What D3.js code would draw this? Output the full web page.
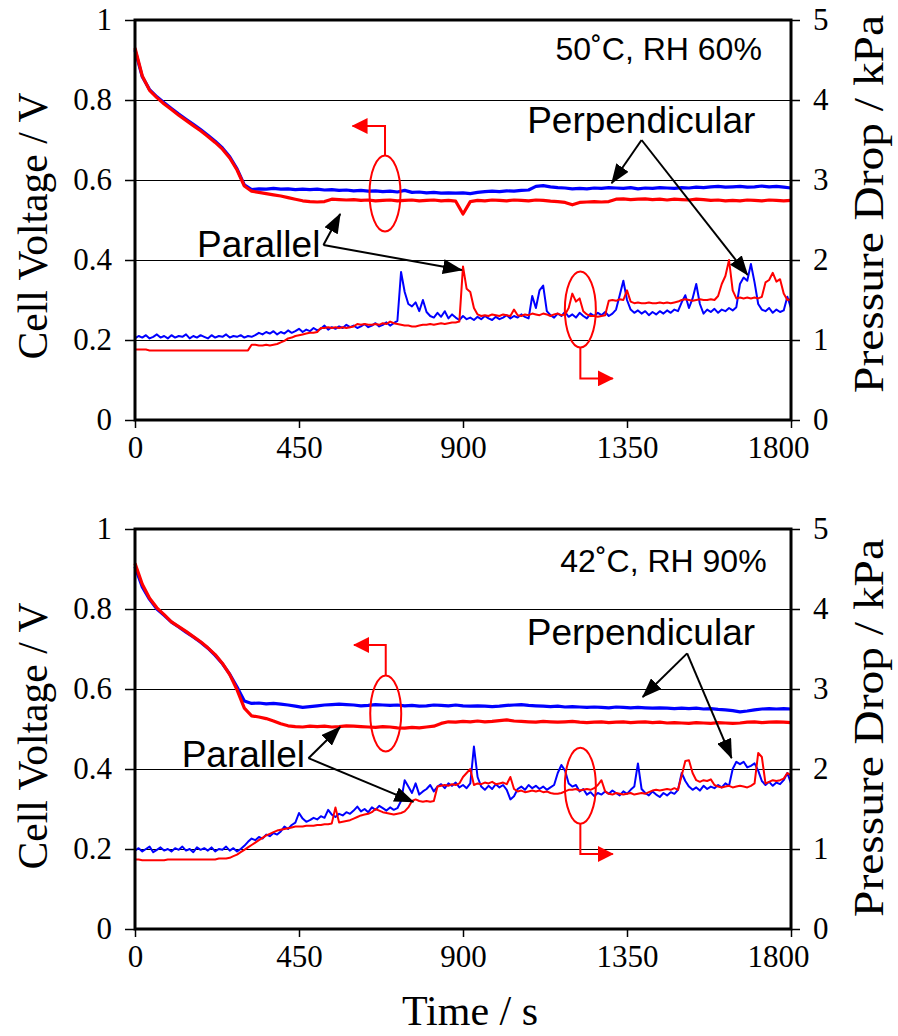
<!DOCTYPE html>
<html>
<head>
<meta charset="utf-8">
<script src="https://cdn.jsdelivr.net/npm/d3@7"></script>
<style>
  body { margin: 0; background: #fff; }
  svg { display: block; }
</style>
</head>
<body>
<svg id="chart" width="898" height="1036"></svg>
<script>
// ----------------------------------------------------
// data
// ----------------------------------------------------
const vStep = 20;   // s between cell voltage samples
const pStep = 10;   // s between pressure drop samples

const timeTicks = [0, 450, 900, 1350, 1800];
const voltTicks = [0, 0.2, 0.4, 0.6, 0.8, 1];
const pressTicks = [0, 1, 2, 3, 4, 5];
const conditions = ['50˚C, RH 60%', '42˚C, RH 90%'];

// 50 C, RH 60 %  -- cell voltage / V, one row = 200 s
const v50Perp = [
  0.925,0.858,0.826,0.808,0.793,0.779,0.765,0.752,0.739,0.726,
  0.712,0.697,0.680,0.658,0.628,0.588,0.576,0.578,0.577,0.579,
  0.577,0.578,0.576,0.577,0.576,0.577,0.575,0.576,0.574,0.575,
  0.573,0.574,0.572,0.573,0.571,0.572,0.570,0.574,0.569,0.570,
  0.568,0.569,0.567,0.568,0.567,0.568,0.566,0.569,0.571,0.572,
  0.571,0.573,0.572,0.574,0.575,0.584,0.586,0.583,0.581,0.580,
  0.578,0.579,0.578,0.580,0.579,0.581,0.580,0.579,0.581,0.578,
  0.580,0.579,0.581,0.580,0.579,0.581,0.580,0.582,0.581,0.583,
  0.584,0.582,0.583,0.584,0.582,0.583,0.585,0.583,0.584,0.582,
  0.580];
const v50Par = [
  0.930,0.860,0.824,0.806,0.790,0.776,0.762,0.749,0.736,0.723,
  0.709,0.694,0.677,0.655,0.625,0.585,0.572,0.569,0.566,0.563,
  0.560,0.556,0.552,0.548,0.546,0.545,0.546,0.552,0.551,0.550,
  0.551,0.549,0.550,0.548,0.549,0.550,0.548,0.549,0.550,0.548,
  0.549,0.550,0.548,0.549,0.547,0.515,0.546,0.549,0.548,0.550,
  0.549,0.548,0.550,0.549,0.548,0.550,0.549,0.547,0.546,0.544,
  0.538,0.544,0.545,0.546,0.545,0.546,0.552,0.553,0.551,0.552,
  0.553,0.551,0.552,0.550,0.552,0.551,0.550,0.552,0.551,0.549,
  0.550,0.548,0.549,0.548,0.550,0.549,0.548,0.550,0.549,0.548,
  0.549];
// 50 C, RH 60 %  -- pressure drop / kPa, one row = 100 s
const p50Perp = [
  1.02,1.05,1.03,1.06,1.02,1.04,1.07,1.03,1.05,1.02,
  1.06,1.03,1.05,1.04,1.07,1.02,1.05,1.03,1.06,1.04,
  1.02,1.06,1.03,1.05,1.04,1.07,1.03,1.05,1.04,1.06,
  1.03,1.05,1.04,1.06,1.09,1.07,1.10,1.08,1.11,1.07,
  1.10,1.08,1.12,1.09,1.11,1.14,1.10,1.13,1.11,1.15,
  1.12,1.14,1.18,1.13,1.16,1.14,1.17,1.15,1.19,1.16,
  1.18,1.15,1.17,1.20,1.16,1.18,1.21,1.17,1.19,1.22,
  1.18,1.21,1.24,1.85,1.60,1.45,1.42,1.47,1.36,1.50,
  1.35,1.30,1.28,1.34,1.29,1.36,1.27,1.32,1.28,1.25,
  1.30,1.26,1.28,1.25,1.29,1.26,1.30,1.27,1.25,1.29,
  1.26,1.28,1.31,1.27,1.30,1.28,1.32,1.29,1.27,1.55,
  1.40,1.62,1.68,1.36,1.31,1.28,1.33,1.30,1.35,1.29,
  1.32,1.28,1.34,1.30,1.27,1.33,1.30,1.34,1.31,1.35,
  1.30,1.33,1.38,1.56,1.74,1.50,1.38,1.34,1.37,1.33,
  1.36,1.31,1.35,1.32,1.36,1.33,1.37,1.34,1.38,1.36,
  1.47,1.56,1.40,1.52,1.70,1.45,1.33,1.38,1.35,1.39,
  1.34,1.38,1.36,1.40,1.37,1.41,1.70,1.78,1.74,1.95,
  1.72,1.45,1.38,1.36,1.40,1.34,1.38,1.35,1.37,1.54,
  1.40];
const p50Par = [
  0.88,0.88,0.88,0.88,0.87,0.87,0.87,0.87,0.87,0.87,
  0.87,0.87,0.87,0.87,0.87,0.87,0.87,0.87,0.87,0.87,
  0.87,0.87,0.87,0.87,0.87,0.87,0.87,0.87,0.87,0.87,
  0.87,0.87,0.94,0.94,0.93,0.93,0.94,0.93,0.94,0.95,
  0.97,0.99,1.02,1.03,1.05,1.06,1.07,1.08,1.09,1.09,
  1.10,1.15,1.15,1.16,1.15,1.16,1.15,1.16,1.15,1.16,
  1.17,1.20,1.19,1.20,1.19,1.19,1.20,1.19,1.21,1.20,
  1.23,1.21,1.20,1.19,1.18,1.18,1.17,1.17,1.18,1.19,
  1.19,1.20,1.19,1.20,1.21,1.20,1.21,1.22,1.22,1.23,
  1.92,1.64,1.60,1.40,1.32,1.30,1.31,1.30,1.32,1.31,
  1.30,1.32,1.31,1.30,1.38,1.31,1.30,1.32,1.31,1.33,
  1.32,1.31,1.33,1.32,1.30,1.32,1.33,1.31,1.32,1.40,
  1.58,1.48,1.52,1.36,1.32,1.30,1.30,1.29,1.30,1.31,
  1.49,1.50,1.49,1.51,1.50,1.62,1.48,1.46,1.47,1.46,
  1.46,1.47,1.46,1.46,1.47,1.46,1.47,1.46,1.47,1.48,
  1.50,1.51,1.50,1.49,1.50,1.51,1.50,1.50,1.51,1.50,
  1.55,1.70,1.80,2.00,1.62,1.52,1.53,1.52,1.53,1.52,
  1.53,1.52,1.54,1.72,1.75,1.84,1.73,1.76,1.58,1.50,
  1.51];

// 42 C, RH 90 %  -- cell voltage / V
const v42Perp = [
  0.906,0.855,0.824,0.800,0.784,0.767,0.755,0.742,0.730,0.717,
  0.702,0.684,0.663,0.637,0.605,0.570,0.564,0.565,0.563,0.564,
  0.562,0.560,0.557,0.554,0.556,0.558,0.560,0.561,0.562,0.561,
  0.560,0.558,0.559,0.561,0.560,0.559,0.560,0.558,0.559,0.557,
  0.558,0.560,0.559,0.558,0.560,0.558,0.557,0.558,0.557,0.556,
  0.557,0.559,0.560,0.561,0.559,0.558,0.557,0.556,0.557,0.555,
  0.556,0.555,0.554,0.555,0.554,0.553,0.555,0.554,0.553,0.554,
  0.553,0.552,0.553,0.552,0.551,0.552,0.551,0.552,0.550,0.551,
  0.549,0.548,0.546,0.543,0.545,0.548,0.550,0.551,0.550,0.551,
  0.550];
const v42Par = [
  0.914,0.862,0.827,0.803,0.786,0.768,0.756,0.744,0.731,0.718,
  0.703,0.686,0.664,0.636,0.598,0.552,0.533,0.530,0.526,0.520,
  0.513,0.508,0.506,0.505,0.507,0.506,0.507,0.505,0.506,0.508,
  0.507,0.506,0.505,0.504,0.506,0.505,0.503,0.502,0.504,0.503,
  0.505,0.507,0.514,0.518,0.517,0.519,0.518,0.520,0.518,0.519,
  0.521,0.523,0.520,0.519,0.518,0.517,0.519,0.518,0.517,0.518,
  0.519,0.517,0.516,0.517,0.518,0.516,0.517,0.518,0.516,0.517,
  0.518,0.516,0.517,0.515,0.516,0.515,0.514,0.516,0.515,0.514,
  0.516,0.515,0.514,0.515,0.517,0.518,0.516,0.517,0.518,0.517,
  0.516];
// 42 C, RH 90 %  -- pressure drop / kPa
const p42Perp = [
  0.98,1.01,0.97,1.00,1.03,0.96,0.99,1.02,0.98,1.00,
  0.97,1.01,0.99,1.03,0.98,1.00,0.96,1.02,0.99,1.01,
  0.98,1.02,0.97,1.00,0.99,1.03,0.98,1.01,0.97,1.00,
  1.04,1.09,1.13,1.11,1.15,1.13,1.18,1.16,1.20,1.18,
  1.22,1.28,1.25,1.30,1.33,1.45,1.38,1.34,1.36,1.39,
  1.37,1.41,1.39,1.49,1.43,1.40,1.44,1.42,1.46,1.44,
  1.48,1.53,1.47,1.50,1.46,1.52,1.49,1.54,1.51,1.48,
  1.52,1.49,1.51,1.60,1.86,1.78,1.70,1.82,1.68,1.72,
  1.75,1.80,1.72,1.78,1.81,1.76,1.82,1.79,1.83,1.77,
  1.80,1.76,1.82,2.28,1.90,1.78,1.74,1.79,1.75,1.81,
  1.77,1.80,1.74,1.62,1.66,1.75,1.78,1.74,1.80,1.76,
  1.79,1.75,1.78,1.74,1.77,1.80,1.95,2.05,1.98,1.82,
  1.78,1.80,1.72,1.75,1.68,1.71,1.66,1.70,1.68,1.72,
  1.69,1.73,1.70,1.67,1.72,1.69,1.74,1.78,2.07,1.75,
  1.70,1.67,1.72,1.68,1.65,1.70,1.67,1.71,1.69,1.74,
  1.95,1.85,1.78,1.74,1.77,1.73,1.79,1.75,1.78,1.76,
  1.80,1.77,1.82,1.79,2.00,2.09,2.06,2.09,2.02,2.04,
  2.07,1.98,1.85,1.80,1.84,1.79,1.83,1.81,1.86,1.95,
  1.82];
const p42Par = [
  0.87,0.87,0.86,0.86,0.86,0.86,0.86,0.86,0.86,0.87,
  0.87,0.87,0.87,0.87,0.87,0.87,0.87,0.87,0.87,0.87,
  0.87,0.87,0.87,0.88,0.88,0.88,0.89,0.91,0.93,0.96,
  0.99,1.02,1.05,1.08,1.11,1.14,1.17,1.19,1.21,1.23,
  1.24,1.25,1.26,1.27,1.28,1.28,1.28,1.29,1.29,1.29,
  1.30,1.30,1.31,1.31,1.32,1.52,1.33,1.34,1.35,1.36,
  1.38,1.40,1.42,1.43,1.44,1.46,1.50,1.48,1.46,1.45,
  1.44,1.43,1.44,1.45,1.47,1.52,1.60,1.62,1.60,1.59,
  1.60,1.59,1.60,1.78,1.79,1.80,1.79,1.81,1.80,1.82,
  1.90,1.95,2.00,1.80,1.82,1.81,1.83,1.82,1.84,1.81,
  1.82,1.83,1.81,1.90,1.75,1.72,1.73,1.71,1.72,1.73,
  1.72,1.73,1.71,1.72,1.70,1.69,1.69,1.70,1.72,1.74,
  1.74,1.75,1.73,1.74,1.75,1.74,1.76,1.80,1.86,1.72,
  1.69,1.68,1.70,1.69,1.68,1.69,1.70,1.68,1.69,1.70,
  1.69,1.71,1.73,1.74,1.73,1.74,1.75,1.74,1.76,1.74,
  1.92,2.10,2.11,1.95,1.86,1.84,1.86,1.85,1.87,1.80,
  1.78,1.77,1.78,1.79,1.77,1.78,1.79,1.78,1.77,1.79,
  1.82,2.20,2.15,1.82,1.84,1.86,1.85,1.86,1.88,1.95,
  1.92];

// annotation anchors in data units [time s, cell voltage V]
const notes50 = {
  cond: [1720, 0.9],
  perpLabel: [1076, 0.7175], perpVertex: [1390, 0.70], perpTips: [[1308, 0.592], [1681, 0.3625]],
  parLabel: [170, 0.408], parVertex: [517, 0.4375], parTips: [[563, 0.515], [897, 0.375]],
  vRing: [686, 0.566], vBend: 0.735, vTip: 597,
  pRing: [1222, 0.276], pBend: 0.104, pTip: 1311
};
const notes42 = {
  cond: [1733, 0.893],
  perpLabel: [1075, 0.71], perpVertex: [1515, 0.689], perpTips: [[1393, 0.58], [1637, 0.427]],
  parLabel: [128, 0.406], parVertex: [476, 0.427], parTips: [[563, 0.505], [764, 0.318]],
  vRing: [688, 0.539], vBend: 0.71, vTip: 601,
  pRing: [1222, 0.358], pBend: 0.1875, pTip: 1311
};

// ----------------------------------------------------
// layout
// ----------------------------------------------------
const serif = "'Liberation Serif', 'Times New Roman', serif";
const sans = "'Liberation Sans', Arial, sans-serif";
const blue = '#0000ff', red = '#ff0000';
const plotLeft = 135, plotRight = 791;

const panels = [
  {top: 20, bottom: 420, cond: conditions[0], vPerp: v50Perp, vPar: v50Par,
   pPerp: p50Perp, pPar: p50Par, notes: notes50, titleV: 226, titleP: 204},
  {top: 529, bottom: 929, cond: conditions[1], vPerp: v42Perp, vPar: v42Par,
   pPerp: p42Perp, pPar: p42Par, notes: notes42, titleV: 736, titleP: 728}
];

const svg = d3.select('#chart');
const x = d3.scaleLinear().domain([0, 1800]).range([plotLeft, plotRight]);

const defs = svg.append('defs');
defs.append('marker')
  .attr('id', 'headBlack').attr('markerUnits', 'userSpaceOnUse')
  .attr('viewBox', '0 0 20 15').attr('markerWidth', 20).attr('markerHeight', 15)
  .attr('refX', 19).attr('refY', 7.5).attr('orient', 'auto')
  .append('path').attr('d', 'M0,0 L20,7.5 L0,15 Z').attr('fill', '#000');
defs.append('marker')
  .attr('id', 'headRed').attr('markerUnits', 'userSpaceOnUse')
  .attr('viewBox', '0 0 16 16').attr('markerWidth', 16).attr('markerHeight', 16)
  .attr('refX', 15).attr('refY', 8).attr('orient', 'auto')
  .append('path').attr('d', 'M0,0 L16,8 L0,16 Z').attr('fill', red);

panels.forEach(p => {
  const yV = d3.scaleLinear().domain([0, 1]).range([p.bottom, p.top]);
  const yP = d3.scaleLinear().domain([0, 5]).range([p.bottom, p.top]);
  const g = svg.append('g');

  // gridlines
  g.append('g').selectAll('line')
    .data(voltTicks.filter(v => v > 0 && v < 1))
    .join('line')
      .attr('x1', plotLeft).attr('x2', plotRight)
      .attr('y1', d => yV(d)).attr('y2', d => yV(d))
      .attr('stroke', '#000').attr('stroke-width', 1)
      .attr('shape-rendering', 'crispEdges');

  const lineV = d3.line().x((d, i) => x(i * vStep)).y(d => yV(d));
  const lineP = d3.line().x((d, i) => x(i * pStep)).y(d => yP(d));

  const series = [
    {data: p.pPerp, gen: lineP, color: blue, w: 2},
    {data: p.pPar, gen: lineP, color: red, w: 2},
    {data: p.vPerp, gen: lineV, color: blue, w: 3.2},
    {data: p.vPar, gen: lineV, color: red, w: 3.2}
  ];
  g.append('g').selectAll('path')
    .data(series)
    .join('path')
      .attr('d', s => s.gen(s.data))
      .attr('fill', 'none')
      .attr('stroke', s => s.color)
      .attr('stroke-width', s => s.w)
      .attr('stroke-linejoin', 'round');

  // frame
  g.append('rect')
    .attr('x', plotLeft).attr('y', p.top)
    .attr('width', plotRight - plotLeft).attr('height', p.bottom - p.top)
    .attr('fill', 'none').attr('stroke', '#000').attr('stroke-width', 3);

  // axes
  const styleAxis = sel => {
    sel.select('.domain').remove();
    sel.selectAll('.tick line').attr('stroke', '#000').attr('stroke-width', 1.5);
    sel.selectAll('.tick text')
      .attr('fill', '#000')
      .style('font-family', serif)
      .style('font-size', '31px');
  };
  g.append('g').attr('transform', `translate(${plotLeft},0)`)
    .call(d3.axisLeft(yV).tickValues(voltTicks).tickFormat(d3.format('~g'))
      .tickSize(10).tickPadding(13))
    .call(styleAxis);
  g.append('g').attr('transform', `translate(${plotRight},0)`)
    .call(d3.axisRight(yP).tickValues(pressTicks).tickFormat(d3.format('d'))
      .tickSize(9).tickPadding(13))
    .call(styleAxis);
  g.append('g').attr('transform', `translate(0,${p.bottom})`)
    .call(d3.axisBottom(x).tickValues(timeTicks).tickFormat(d3.format('d'))
      .tickSize(8).tickPadding(8))
    .call(styleAxis)
    .call(sel => sel.selectAll('.tick text')
      .filter(d => d === timeTicks[timeTicks.length - 1])
      .attr('dx', -13));   // last label sits left of its tick, clear of the right axis

  // axis titles
  g.append('text')
    .attr('transform', `translate(47,${p.titleV}) rotate(-90)`)
    .attr('text-anchor', 'middle')
    .style('font-family', serif).style('font-size', '42px')
    .attr('textLength', 267).attr('lengthAdjust', 'spacingAndGlyphs')
    .text('Cell Voltage / V');
  g.append('text')
    .attr('transform', `translate(883,${p.titleP}) rotate(-90)`)
    .attr('text-anchor', 'middle')
    .style('font-family', serif).style('font-size', '42px')
    .attr('textLength', 378).attr('lengthAdjust', 'spacingAndGlyphs')
    .text('Pressure Drop / kPa');

  // annotations
  const n = p.notes;
  const pt = d => [x(d[0]), yV(d[1])];

  g.append('text')
    .attr('x', pt(n.cond)[0]).attr('y', pt(n.cond)[1])
    .attr('text-anchor', 'end')
    .style('font-family', sans).style('font-size', '32px')
    .text(p.cond);

  const labels = [
    {text: 'Perpendicular', at: n.perpLabel, vertex: n.perpVertex, tips: n.perpTips},
    {text: 'Parallel', at: n.parLabel, vertex: n.parVertex, tips: n.parTips}
  ];
  labels.forEach(l => {
    g.append('text')
      .attr('x', pt(l.at)[0]).attr('y', pt(l.at)[1])
      .style('font-family', sans).style('font-size', '37px')
      .text(l.text);
    g.append('g').selectAll('line')
      .data(l.tips)
      .join('line')
        .attr('x1', pt(l.vertex)[0]).attr('y1', pt(l.vertex)[1])
        .attr('x2', d => pt(d)[0]).attr('y2', d => pt(d)[1])
        .attr('stroke', '#000').attr('stroke-width', 2)
        .attr('marker-end', 'url(#headBlack)');
  });

  // red rings pointing to the axis each pair belongs to
  const ringRx = 15.5, ringRy = 38;
  const rings = [
    {c: n.vRing, dir: -1, bend: n.vBend, tip: n.vTip},
    {c: n.pRing, dir: 1, bend: n.pBend, tip: n.pTip}
  ];
  rings.forEach(r => {
    const [cx, cy] = pt(r.c);
    g.append('ellipse')
      .attr('cx', cx).attr('cy', cy).attr('rx', ringRx).attr('ry', ringRy)
      .attr('fill', 'none').attr('stroke', red).attr('stroke-width', 2);
    g.append('path')
      .attr('d', `M${cx},${cy + r.dir * ringRy} V${yV(r.bend)} H${x(r.tip)}`)
      .attr('fill', 'none').attr('stroke', red).attr('stroke-width', 2)
      .attr('marker-end', 'url(#headRed)');
  });
});

svg.append('text')
  .attr('x', 470).attr('y', 1025)
  .attr('text-anchor', 'middle')
  .style('font-family', serif).style('font-size', '42px')
  .text('Time / s');
</script>
</body>
</html>
